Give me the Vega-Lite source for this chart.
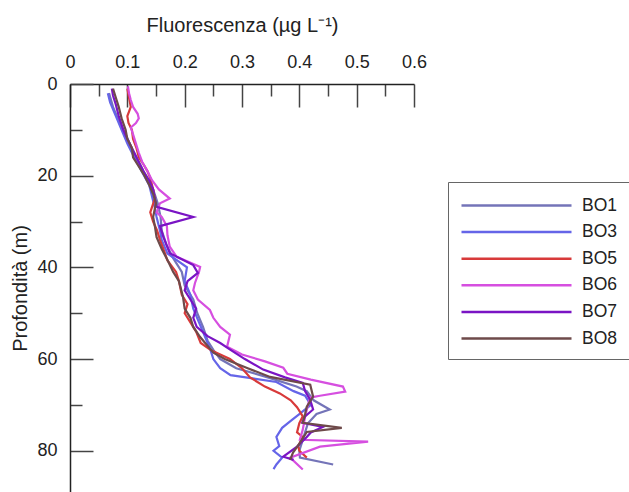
{
  "$schema": "https://vega.github.io/schema/vega-lite/v6.json",
  "width": 344,
  "height": 408,
  "autosize": "none",
  "padding": {"left": 70, "top": 84, "right": 215, "bottom": 0},
  "background": "white",
  "config": {
    "view": {"stroke": null},
    "font": "Liberation Sans"
  },
  "datasets": {
    "raw": [
      {"s":"BO1","d":2,"v":0.068},{"s":"BO1","d":5,"v":0.075},{"s":"BO1","d":8,"v":0.085},{"s":"BO1","d":11,"v":0.097},{"s":"BO1","d":14,"v":0.108},{"s":"BO1","d":17,"v":0.12},{"s":"BO1","d":20,"v":0.132},{"s":"BO1","d":23,"v":0.145},{"s":"BO1","d":26,"v":0.153},{"s":"BO1","d":29,"v":0.158},{"s":"BO1","d":32,"v":0.16},{"s":"BO1","d":35,"v":0.168},{"s":"BO1","d":38,"v":0.18},{"s":"BO1","d":41,"v":0.195},{"s":"BO1","d":44,"v":0.2},{"s":"BO1","d":47,"v":0.215},{"s":"BO1","d":50,"v":0.222},{"s":"BO1","d":53,"v":0.232},{"s":"BO1","d":56,"v":0.24},{"s":"BO1","d":58,"v":0.25},{"s":"BO1","d":60,"v":0.262},{"s":"BO1","d":62,"v":0.29},{"s":"BO1","d":64,"v":0.345},{"s":"BO1","d":66,"v":0.395},{"s":"BO1","d":67,"v":0.413},{"s":"BO1","d":69,"v":0.425},{"s":"BO1","d":71,"v":0.453},{"s":"BO1","d":72,"v":0.43},{"s":"BO1","d":74,"v":0.415},{"s":"BO1","d":76,"v":0.41},{"s":"BO1","d":78,"v":0.405},{"s":"BO1","d":80,"v":0.4},{"s":"BO1","d":81.5,"v":0.401},{"s":"BO1","d":83,"v":0.459},
      {"s":"BO3","d":2,"v":0.066},{"s":"BO3","d":4,"v":0.07},{"s":"BO3","d":7,"v":0.08},{"s":"BO3","d":10,"v":0.09},{"s":"BO3","d":13,"v":0.1},{"s":"BO3","d":16,"v":0.112},{"s":"BO3","d":19,"v":0.125},{"s":"BO3","d":22,"v":0.138},{"s":"BO3","d":24,"v":0.142},{"s":"BO3","d":27,"v":0.148},{"s":"BO3","d":29,"v":0.151},{"s":"BO3","d":32,"v":0.157},{"s":"BO3","d":34,"v":0.16},{"s":"BO3","d":37,"v":0.17},{"s":"BO3","d":40,"v":0.204},{"s":"BO3","d":43,"v":0.2},{"s":"BO3","d":46,"v":0.21},{"s":"BO3","d":49,"v":0.215},{"s":"BO3","d":52,"v":0.225},{"s":"BO3","d":55,"v":0.235},{"s":"BO3","d":58,"v":0.245},{"s":"BO3","d":60,"v":0.25},{"s":"BO3","d":62,"v":0.262},{"s":"BO3","d":63.5,"v":0.28},{"s":"BO3","d":65,"v":0.36},{"s":"BO3","d":67,"v":0.39},{"s":"BO3","d":68,"v":0.41},{"s":"BO3","d":70,"v":0.42},{"s":"BO3","d":72,"v":0.4},{"s":"BO3","d":73.5,"v":0.385},{"s":"BO3","d":75,"v":0.37},{"s":"BO3","d":77,"v":0.36},{"s":"BO3","d":79,"v":0.365},{"s":"BO3","d":80,"v":0.355},{"s":"BO3","d":81.5,"v":0.37},{"s":"BO3","d":83,"v":0.36},{"s":"BO3","d":84,"v":0.355},
      {"s":"BO5","d":1,"v":0.1},{"s":"BO5","d":3,"v":0.103},{"s":"BO5","d":5,"v":0.106},{"s":"BO5","d":7,"v":0.1},{"s":"BO5","d":8.5,"v":0.102},{"s":"BO5","d":10,"v":0.108},{"s":"BO5","d":12,"v":0.11},{"s":"BO5","d":14,"v":0.116},{"s":"BO5","d":16,"v":0.12},{"s":"BO5","d":17.5,"v":0.128},{"s":"BO5","d":19,"v":0.135},{"s":"BO5","d":20.5,"v":0.14},{"s":"BO5","d":23,"v":0.145},{"s":"BO5","d":25,"v":0.148},{"s":"BO5","d":28,"v":0.14},{"s":"BO5","d":30,"v":0.145},{"s":"BO5","d":32,"v":0.152},{"s":"BO5","d":34,"v":0.157},{"s":"BO5","d":36,"v":0.163},{"s":"BO5","d":38.5,"v":0.17},{"s":"BO5","d":41,"v":0.185},{"s":"BO5","d":43,"v":0.19},{"s":"BO5","d":46,"v":0.195},{"s":"BO5","d":48,"v":0.205},{"s":"BO5","d":50,"v":0.2},{"s":"BO5","d":52,"v":0.21},{"s":"BO5","d":54,"v":0.22},{"s":"BO5","d":56.5,"v":0.228},{"s":"BO5","d":58,"v":0.245},{"s":"BO5","d":60,"v":0.279},{"s":"BO5","d":62,"v":0.3},{"s":"BO5","d":64,"v":0.314},{"s":"BO5","d":66,"v":0.34},{"s":"BO5","d":67.5,"v":0.366},{"s":"BO5","d":69,"v":0.385},{"s":"BO5","d":70.5,"v":0.396},{"s":"BO5","d":72.5,"v":0.406},{"s":"BO5","d":74,"v":0.4},{"s":"BO5","d":76,"v":0.396},{"s":"BO5","d":77,"v":0.406},{"s":"BO5","d":79,"v":0.398},{"s":"BO5","d":80,"v":0.4},{"s":"BO5","d":81.5,"v":0.413},
      {"s":"BO6","d":0.5,"v":0.101},{"s":"BO6","d":2,"v":0.103},{"s":"BO6","d":3.5,"v":0.106},{"s":"BO6","d":5,"v":0.11},{"s":"BO6","d":6.5,"v":0.118},{"s":"BO6","d":7.5,"v":0.12},{"s":"BO6","d":8.5,"v":0.115},{"s":"BO6","d":9.5,"v":0.106},{"s":"BO6","d":11,"v":0.11},{"s":"BO6","d":13,"v":0.115},{"s":"BO6","d":15,"v":0.12},{"s":"BO6","d":17,"v":0.126},{"s":"BO6","d":19,"v":0.135},{"s":"BO6","d":21,"v":0.143},{"s":"BO6","d":23,"v":0.155},{"s":"BO6","d":25,"v":0.174},{"s":"BO6","d":26,"v":0.157},{"s":"BO6","d":28,"v":0.151},{"s":"BO6","d":29,"v":0.16},{"s":"BO6","d":31,"v":0.169},{"s":"BO6","d":33,"v":0.17},{"s":"BO6","d":35.5,"v":0.174},{"s":"BO6","d":37.7,"v":0.186},{"s":"BO6","d":39.9,"v":0.227},{"s":"BO6","d":41,"v":0.225},{"s":"BO6","d":43.4,"v":0.218},{"s":"BO6","d":45,"v":0.215},{"s":"BO6","d":47,"v":0.223},{"s":"BO6","d":49.3,"v":0.244},{"s":"BO6","d":51,"v":0.25},{"s":"BO6","d":53,"v":0.262},{"s":"BO6","d":54.7,"v":0.279},{"s":"BO6","d":57.3,"v":0.274},{"s":"BO6","d":59,"v":0.3},{"s":"BO6","d":60.5,"v":0.34},{"s":"BO6","d":61.9,"v":0.372},{"s":"BO6","d":63.2,"v":0.379},{"s":"BO6","d":64.5,"v":0.42},{"s":"BO6","d":66,"v":0.476},{"s":"BO6","d":67.1,"v":0.48},{"s":"BO6","d":68,"v":0.436},{"s":"BO6","d":68.4,"v":0.419},{"s":"BO6","d":70,"v":0.415},{"s":"BO6","d":72.6,"v":0.41},{"s":"BO6","d":75.4,"v":0.406},{"s":"BO6","d":77.6,"v":0.401},{"s":"BO6","d":78,"v":0.52},{"s":"BO6","d":79.1,"v":0.436},{"s":"BO6","d":81.5,"v":0.384},{"s":"BO6","d":84.1,"v":0.406},
      {"s":"BO7","d":1,"v":0.073},{"s":"BO7","d":2.5,"v":0.075},{"s":"BO7","d":4.5,"v":0.08},{"s":"BO7","d":7,"v":0.085},{"s":"BO7","d":10,"v":0.093},{"s":"BO7","d":12,"v":0.1},{"s":"BO7","d":14,"v":0.108},{"s":"BO7","d":17,"v":0.12},{"s":"BO7","d":19,"v":0.128},{"s":"BO7","d":21,"v":0.138},{"s":"BO7","d":23,"v":0.145},{"s":"BO7","d":25,"v":0.148},{"s":"BO7","d":26.8,"v":0.151},{"s":"BO7","d":29,"v":0.215},{"s":"BO7","d":31,"v":0.157},{"s":"BO7","d":33.4,"v":0.163},{"s":"BO7","d":36.9,"v":0.174},{"s":"BO7","d":39.5,"v":0.215},{"s":"BO7","d":41.2,"v":0.223},{"s":"BO7","d":43,"v":0.205},{"s":"BO7","d":45,"v":0.2},{"s":"BO7","d":47,"v":0.21},{"s":"BO7","d":49,"v":0.22},{"s":"BO7","d":51,"v":0.215},{"s":"BO7","d":53,"v":0.221},{"s":"BO7","d":55,"v":0.24},{"s":"BO7","d":56.5,"v":0.262},{"s":"BO7","d":58,"v":0.28},{"s":"BO7","d":60,"v":0.305},{"s":"BO7","d":62.3,"v":0.337},{"s":"BO7","d":64,"v":0.375},{"s":"BO7","d":65.2,"v":0.406},{"s":"BO7","d":67,"v":0.41},{"s":"BO7","d":68.9,"v":0.419},{"s":"BO7","d":71,"v":0.424},{"s":"BO7","d":72.5,"v":0.41},{"s":"BO7","d":73.9,"v":0.405},{"s":"BO7","d":74.8,"v":0.441},{"s":"BO7","d":76,"v":0.42},{"s":"BO7","d":77,"v":0.413},{"s":"BO7","d":79.1,"v":0.396},{"s":"BO7","d":81.3,"v":0.372},{"s":"BO7","d":82,"v":0.39},
      {"s":"BO8","d":1,"v":0.075},{"s":"BO8","d":3,"v":0.08},{"s":"BO8","d":5,"v":0.085},{"s":"BO8","d":7.5,"v":0.09},{"s":"BO8","d":10,"v":0.097},{"s":"BO8","d":12,"v":0.1},{"s":"BO8","d":14,"v":0.108},{"s":"BO8","d":16,"v":0.11},{"s":"BO8","d":18,"v":0.12},{"s":"BO8","d":20,"v":0.13},{"s":"BO8","d":22,"v":0.138},{"s":"BO8","d":24,"v":0.145},{"s":"BO8","d":26,"v":0.15},{"s":"BO8","d":29,"v":0.145},{"s":"BO8","d":31,"v":0.148},{"s":"BO8","d":33.4,"v":0.151},{"s":"BO8","d":36,"v":0.16},{"s":"BO8","d":38.4,"v":0.17},{"s":"BO8","d":41,"v":0.18},{"s":"BO8","d":43,"v":0.19},{"s":"BO8","d":46.4,"v":0.197},{"s":"BO8","d":49,"v":0.2},{"s":"BO8","d":51,"v":0.21},{"s":"BO8","d":53,"v":0.215},{"s":"BO8","d":55.2,"v":0.227},{"s":"BO8","d":58.6,"v":0.25},{"s":"BO8","d":60,"v":0.27},{"s":"BO8","d":62,"v":0.31},{"s":"BO8","d":63.9,"v":0.349},{"s":"BO8","d":65.6,"v":0.419},{"s":"BO8","d":68.2,"v":0.424},{"s":"BO8","d":70.4,"v":0.413},{"s":"BO8","d":72,"v":0.41},{"s":"BO8","d":73.9,"v":0.406},{"s":"BO8","d":75,"v":0.474},{"s":"BO8","d":75.9,"v":0.413},{"s":"BO8","d":78.3,"v":0.401},{"s":"BO8","d":80.4,"v":0.389},{"s":"BO8","d":82,"v":0.384}
    ]
  },
  "data": {"name": "raw"},
  "mark": {"type": "line", "strokeWidth": 2.2, "clip": true},
  "encoding": {
    "x": {
      "field": "v", "type": "quantitative",
      "scale": {"domain": [0, 0.6], "nice": false, "zero": false},
      "axis": {
        "orient": "top",
        "title": "Fluorescenza (µg L⁻¹)",
        "titleFont": "Liberation Sans", "titleFontSize": 20, "titleFontWeight": "normal", "titleColor": "#222", "titlePadding": 7,
        "values": [0, 0.05, 0.1, 0.15, 0.2, 0.25, 0.3, 0.35, 0.4, 0.45, 0.5, 0.55, 0.6],
        "labelExpr": "abs(datum.value*10 - round(datum.value*10)) < 0.001 ? format(datum.value, '.1~f') : ''",
        "labelFont": "Liberation Sans", "labelFontSize": 18, "labelColor": "#222", "labelPadding": 36,
        "labelFlush": false, "labelOverlap": false,
        "tickSize": {"condition": {"test": "abs(datum.value*10 - round(datum.value*10)) < 0.001", "value": -23}, "value": -12},
        "tickColor": "#444", "tickWidth": 1.5,
        "domainColor": "#222", "domainWidth": 1.5,
        "grid": false
      }
    },
    "y": {
      "field": "d", "type": "quantitative",
      "scale": {"domain": [0, 89], "nice": false, "zero": false, "reverse": true},
      "axis": {
        "title": "Profondità (m)",
        "titleFont": "Liberation Sans", "titleFontSize": 20, "titleFontWeight": "normal", "titleColor": "#222", "titlePadding": 6,
        "values": [0, 10, 20, 30, 40, 50, 60, 70, 80],
        "labelExpr": "datum.value % 20 === 0 ? datum.label : ''",
        "labelFont": "Liberation Sans", "labelFontSize": 18, "labelColor": "#222", "labelPadding": 36,
        "labelFlush": false, "labelOverlap": false,
        "tickSize": {"condition": {"test": "datum.value % 20 === 0", "value": -23}, "value": -12},
        "tickColor": "#444", "tickWidth": 1.5,
        "domainColor": "#222", "domainWidth": 1.5,
        "grid": false
      }
    },
    "color": {
      "field": "s", "type": "nominal",
      "scale": {"domain": ["BO1", "BO3", "BO5", "BO6", "BO7", "BO8"], "range": ["#7474b8", "#6565e8", "#d83a3a", "#d64fe0", "#7a14c4", "#6e4a4a"]},
      "legend": {
        "title": null,
        "orient": "none", "legendX": 378, "legendY": 98,
        "symbolType": "M-1,0H10", "symbolSize": 400, "symbolStrokeWidth": 2.5,
        "labelFont": "Liberation Sans", "labelFontSize": 17.5, "labelColor": "#222", "labelOffset": 99,
        "rowPadding": 6.6, "padding": 12,
        "strokeColor": "#666", "fillColor": "white"
      }
    },
    "order": {"field": "d", "type": "quantitative"}
  }
}
